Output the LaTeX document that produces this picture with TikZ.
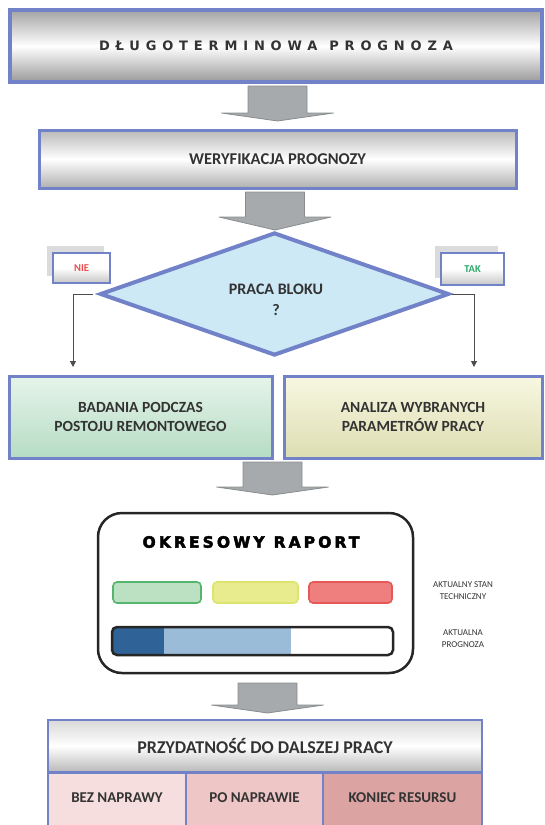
\documentclass[tikz,border=0pt]{standalone}
\usepackage{fontspec}
\setmainfont{Carlito}
\newfontfamily\topfont[LetterSpace=45]{DejaVu Sans Bold}
\newfontfamily\repfont[LetterSpace=20,FakeBold=3]{DejaVu Sans Bold}
\usetikzlibrary{shapes.geometric,arrows.meta}
\definecolor{bordblue}{HTML}{7182C8}
\definecolor{diafill}{HTML}{CDE9F5}
\definecolor{txt}{HTML}{333333}
\definecolor{arrfill}{HTML}{A7AAAC}
\definecolor{arrdraw}{HTML}{8A8D8F}
\definecolor{greentop}{HTML}{E6F4EA}
\definecolor{greenbot}{HTML}{B6DCC4}
\definecolor{yeltop}{HTML}{F8F8E2}
\definecolor{yelbot}{HTML}{DDDDB2}
\definecolor{stgreenf}{HTML}{BBE0C2}
\definecolor{stgreend}{HTML}{55B56C}
\definecolor{styelf}{HTML}{E9EC8E}
\definecolor{styeld}{HTML}{DDE46C}
\definecolor{stredf}{HTML}{EF7E7E}
\definecolor{stredd}{HTML}{E65858}
\definecolor{bardark}{HTML}{2F6296}
\definecolor{barlight}{HTML}{9BBCD8}
\definecolor{cellA}{HTML}{F6DEDE}
\definecolor{cellB}{HTML}{EEC6C6}
\definecolor{cellC}{HTML}{DCA3A3}
\definecolor{niered}{HTML}{EF4B4B}
\definecolor{takgreen}{HTML}{2FAA6A}
\newcommand\blockarrow[4]{%
  \path[blockarr] (#1-29.5,#2) -- (#1+29.5,#2) -- (#1+29.5,#3) -- (#1+56,#3)
    -- (#1,#4) -- (#1-56,#3) -- (#1-29.5,#3) -- cycle;}
\begin{document}
\begin{tikzpicture}[x=1pt,y=-1pt,
  bluebox/.style={draw=bordblue, line width=3pt, inner sep=0pt},
  steelbox/.style={bluebox, top color=gray!55, bottom color=gray!62, middle color=white},
  boxtext/.style={font=\fontsize{15.5}{19}\selectfont\bfseries, text=txt, align=center},
  blockarr/.style={fill=arrfill, draw=arrdraw, line width=0.8pt, line join=round},
  conn/.style={draw=black!70, line width=1pt, -{Triangle[length=6pt,width=6pt]}},
  tagbox/.style={draw=bordblue, line width=2pt, top color=white, bottom color=gray!45, middle color=white, inner sep=0pt, minimum width=57pt, minimum height=30pt, font=\fontsize{10.5}{12}\selectfont\bfseries},
  shadowbox/.style={fill=gray!35, opacity=0.8, inner sep=0pt},
  statebox/.style={rounded corners=4pt, line width=1.6pt, minimum height=21pt, inner sep=0pt},
  smalllab/.style={font=\fontsize{9}{12.5}\selectfont, text=txt, align=center},
  cell/.style={draw=bordblue, line width=2pt, anchor=north, minimum height=70pt, inner sep=0pt}
]
\useasboundingbox (0,0) rectangle (544,825);

% top box
\node[steelbox, line width=3.5pt, minimum width=532pt, minimum height=72pt,
      top color=gray!72, bottom color=gray!80, middle color=white] (top) at (276,46)
      {\topfont\fontsize{13}{15}\selectfont\color{txt}DŁUGOTERMINOWA\hspace{12pt}PROGNOZA};

\blockarrow{277.5}{86}{113}{121}

% verification
\node[steelbox, minimum width=477pt, minimum height=58pt, boxtext,
      font=\fontsize{16.5}{19}\selectfont\bfseries] (ver) at (277.5,159)
      {WERYFIKACJA PROGNOZY};

\blockarrow{275}{192}{217}{230}

% tag shadows
\node[shadowbox, minimum width=57pt, minimum height=30pt] (nieshadow) at (75.5,261) {};
\node[shadowbox, minimum width=63pt, minimum height=32pt] (takshadow) at (466.5,262) {};
\node[tagbox, text=niered] (nie) at (81.5,268) {NIE};
\node[tagbox, text=takgreen, minimum width=63pt, minimum height=32pt] (tak) at (472.5,269) {TAK};

% decision diamond
\node[diamond, draw=bordblue, line width=4pt, fill=diafill, inner sep=0pt,
      minimum width=349pt, minimum height=123pt] (dec) at (274.5,294) {};
\node[boxtext, font=\fontsize{16}{21}\selectfont\bfseries] (dectext) at (276,300) {PRACA BLOKU\\?};

% branch boxes
\node[bluebox, top color=greentop, bottom color=greenbot, minimum width=263pt,
      minimum height=82pt, boxtext] (green) at (140.5,417) {BADANIA PODCZAS\\POSTOJU REMONTOWEGO};
\node[bluebox, top color=yeltop, bottom color=yelbot, minimum width=258pt,
      minimum height=82pt, boxtext] (yellow) at (413,417) {ANALIZA WYBRANYCH\\PARAMETRÓW PRACY};

% connectors
\coordinate (nieS) at (93,294);
\coordinate (nieE) at (73,367);
\coordinate (takS) at (452,294);
\coordinate (takE) at (474,367);
\draw[conn] (nieS) -| (nieE);
\draw[conn] (takS) -| (takE);

\blockarrow{272.5}{462}{487}{495}

% report
\node[draw=black!85, line width=2.5pt, rounded corners=24pt, minimum width=315pt,
      minimum height=160pt, inner sep=0pt] (report) at (255.5,593) {};
\node[font=\repfont\fontsize{15.5}{18}\selectfont, text=black] (reptitle) at (251,542) {OKRESOWY\hspace{9pt}RAPORT};
\node[statebox, draw=stgreend, fill=stgreenf, minimum width=88pt] (sgreen) at (157,592.5) {};
\node[statebox, draw=styeld, fill=styelf, minimum width=85pt] (syellow) at (255.5,592.5) {};
\node[statebox, draw=stredd, fill=stredf, minimum width=83pt] (sred) at (350.5,592.5) {};
\begin{scope}
  \clip[rounded corners=5pt] (112,627) rectangle (393,655);
  \fill[bardark] (112,627) rectangle (164,655);
  \fill[barlight] (164,627) rectangle (291,655);
\end{scope}
\node[draw=black!85, line width=2.5pt, rounded corners=5pt, minimum width=281pt,
      minimum height=28pt, inner sep=0pt] (bar) at (252.5,641) {};
\node[smalllab] (lab1) at (463,590.5) {AKTUALNY STAN\\TECHNICZNY};
\node[smalllab] (lab2) at (463,638.5) {AKTUALNA\\PROGNOZA};

\blockarrow{267.5}{683}{705}{713}

% table
\node[bluebox, line width=2pt, top color=gray!30, bottom color=gray!55, middle color=white,
      minimum width=434pt, minimum height=52pt, boxtext,
      font=\fontsize{18}{21}\selectfont\bfseries] (fit) at (265,746)
      {PRZYDATNOŚĆ DO DALSZEJ PRACY};
\node[cell, fill=cellA, minimum width=138pt] (c1) at (117,772) {};
\node[cell, fill=cellB, minimum width=137pt] (c2) at (254.5,772) {};
\node[cell, fill=cellC, minimum width=159pt] (c3) at (402.5,772) {};
\node[boxtext, font=\fontsize{15}{18}\selectfont\bfseries] (t1) at (117,798) {BEZ NAPRAWY};
\node[boxtext, font=\fontsize{15}{18}\selectfont\bfseries] (t2) at (254.5,798) {PO NAPRAWIE};
\node[boxtext, font=\fontsize{15}{18}\selectfont\bfseries] (t3) at (402.5,798) {KONIEC RESURSU};
\end{tikzpicture}
\end{document}
